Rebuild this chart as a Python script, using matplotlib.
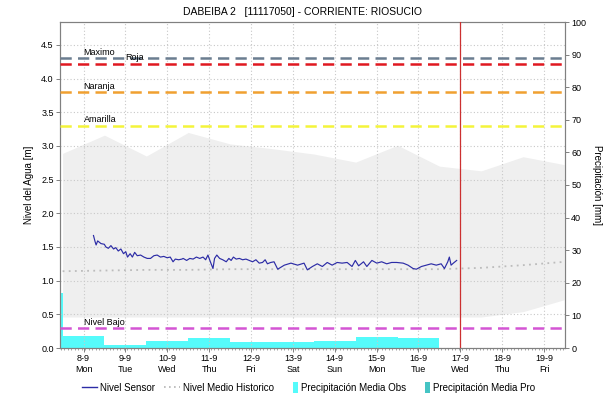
import matplotlib

matplotlib.use("Agg")
import matplotlib.dates as mdates
import matplotlib.pyplot as plt
import pandas as pd
from matplotlib.legend_handler import HandlerPatch
from matplotlib.lines import Line2D
from matplotlib.patches import Patch, Rectangle

plt.rcParams["font.family"] = ["Liberation Sans", "DejaVu Sans"]

title = "DABEIBA 2   [11117050] - CORRIENTE: RIOSUCIO"
base = pd.Timestamp("2025-09-08 00:00")

# sensor level [m], hours after 8-9 00:00
sensor_hours = [5.7, 6.6, 7.2, 8.1, 10.0, 11.9, 12.8, 14.2, 15.7, 17.2, 18.5, 19.9, 21.4, 22.9,
                24.2, 25.2, 26.7, 28.0, 29.3, 30.8, 32.7, 34.6, 36.5, 38.4, 40.3, 42.2, 44.1,
                46.0, 47.9, 49.7, 51.3, 52.6, 54.5, 56.4, 57.1, 59.1, 60.9, 62.8, 64.7, 66.6,
                68.5, 70.0, 71.3, 72.7, 74.2, 75.1, 76.4, 78.0, 79.8, 81.8, 83.3, 84.6, 85.9,
                87.5, 89.3, 91.2, 93.1, 95.0, 96.9, 98.8, 100.7, 102.6, 104.1, 105.4, 107.3,
                109.2, 111.3, 115.1, 118.9, 122.7, 126.4, 128.3, 131.2, 134.0, 136.9, 139.7,
                142.5, 145.4, 148.2, 151.1, 153.9, 155.8, 157.7, 160.5, 162.4, 165.3, 168.1,
                170.9, 173.8, 176.6, 179.5, 183.2, 186.0, 188.9, 190.8, 193.7, 196.5, 199.3,
                202.2, 205.0, 206.9, 208.8, 209.7, 210.7, 212.0, 213.9]
sensor_level = [1.67, 1.58, 1.53, 1.59, 1.55, 1.54, 1.50, 1.48, 1.52, 1.47, 1.49, 1.44, 1.47, 1.40,
                1.43, 1.35, 1.40, 1.35, 1.42, 1.37, 1.38, 1.35, 1.33, 1.33, 1.37, 1.38, 1.35,
                1.36, 1.34, 1.35, 1.28, 1.32, 1.31, 1.32, 1.33, 1.30, 1.33, 1.32, 1.35, 1.33,
                1.35, 1.31, 1.38, 1.28, 1.18, 1.33, 1.38, 1.33, 1.31, 1.28, 1.33, 1.30, 1.35,
                1.32, 1.33, 1.31, 1.32, 1.30, 1.28, 1.31, 1.26, 1.27, 1.31, 1.25, 1.27,
                1.28, 1.17, 1.23, 1.26, 1.23, 1.26, 1.16, 1.21, 1.25, 1.21, 1.27,
                1.23, 1.27, 1.26, 1.27, 1.21, 1.30, 1.22, 1.28, 1.21, 1.30, 1.26,
                1.28, 1.25, 1.27, 1.27, 1.26, 1.23, 1.18, 1.17, 1.21, 1.23, 1.25,
                1.23, 1.25, 1.18, 1.28, 1.35, 1.23, 1.26, 1.30]

# historical band and median [m], daily at noon
hist_days = ["2025-09-07 12:00", "2025-09-08 12:00", "2025-09-09 12:00", "2025-09-10 12:00",
             "2025-09-11 12:00", "2025-09-12 12:00", "2025-09-13 12:00", "2025-09-14 12:00",
             "2025-09-15 12:00", "2025-09-16 12:00", "2025-09-17 12:00", "2025-09-18 12:00",
             "2025-09-19 12:00"]
hist_max = [2.89, 3.16, 2.85, 3.20, 3.03, 2.96, 2.88, 2.76, 3.01, 2.70, 2.63, 2.84, 2.72]
hist_min = [0.46, 0.46, 0.46, 0.46, 0.46, 0.46, 0.46, 0.46, 0.46, 0.46, 0.46, 0.54, 0.72]
hist_median = [1.14, 1.15, 1.16, 1.16, 1.17, 1.17, 1.17, 1.17, 1.17, 1.17, 1.19, 1.23, 1.28]

# daily observed precipitation [mm]
precip_days = ["2025-09-07", "2025-09-08", "2025-09-09", "2025-09-10", "2025-09-11",
               "2025-09-12", "2025-09-13", "2025-09-14", "2025-09-15", "2025-09-16"]
precip_obs = [17.0, 3.8, 0.8, 2.0, 3.0, 1.9, 1.9, 2.2, 3.5, 3.0]

# alert levels [m]
levels = [("Maximo", 4.30, "#6b7d90", 0), ("Roja", 4.22, "#e01820", 1),
          ("Naranja", 3.80, "#f0a030", 0), ("Amarilla", 3.30, "#f4f43a", 0),
          ("Nivel Bajo", 0.29, "#d455d4", 0)]
now = pd.Timestamp("2025-09-17 00:00")

tick_days = pd.date_range("2025-09-08", "2025-09-19", freq="D")
tick_labels = [f"{d.day}-{d.month}\n{d.strftime('%a')}" for d in tick_days]

grey = "#808080"
cyan = "#55fbfb"
teal = "#45c4c4"


class NarrowPatch(HandlerPatch):
    def create_artists(self, legend, orig_handle, xdescent, ydescent, width, height, fontsize, trans):
        w = height * 0.7
        r = Rectangle((width - w - xdescent, -ydescent - 1.5), w, height + 3,
                      facecolor=orig_handle.get_facecolor(), edgecolor="none", transform=trans)
        return [r]


fig = plt.figure(figsize=(6.05, 4.01), dpi=100)
ax = fig.add_axes([60 / 605, 1 - 348 / 401, 505 / 605, 326 / 401])
ax2 = ax.twinx()
ax.set_zorder(ax2.get_zorder() + 1)
ax.patch.set_visible(False)

hx = pd.to_datetime(hist_days)
ax.fill_between(hx, hist_min, hist_max, color="#efefef", lw=0, zorder=1)
ax.plot(hx, hist_median, color="#bcbcbc", ls=(0, (1, 2.4)), lw=1.3, zorder=2)

sx = base + pd.to_timedelta(sensor_hours, unit="h")
ax.plot(sx, sensor_level, color="#2c2ca6", lw=0.85, zorder=4)

start = pd.Timestamp("2025-09-07 10:30")
for name, val, col, k in levels:
    ax.axhline(val, color=col, lw=1.8, ls=(0, (4.5, 2.5)), zorder=3)
    ax.text(tick_days[k], val + 0.02, name, fontsize=6.5, va="bottom", ha="left", zorder=5)

ax.axvline(now, color="#cc3030", lw=0.9, zorder=5)

px = pd.to_datetime(precip_days)
ax2.bar(px, precip_obs, width=1.0, color=cyan, lw=0, zorder=1)

ax.set_xlim(start, pd.Timestamp("2025-09-19 12:00"))
ax.set_ylim(0, 4.84)
ax2.set_ylim(0, 100)
ax.set_yticks([i * 0.5 for i in range(10)])
ax.yaxis.set_major_formatter(matplotlib.ticker.FormatStrFormatter("%.1f"))
ax2.set_yticks(range(0, 101, 10))
ax.set_xticks(tick_days)
ax.set_xticklabels(tick_labels)
ax.xaxis.set_minor_locator(mdates.HourLocator(interval=2))

ax.grid(True, which="major", color="#c8c8c8", ls=(0, (1, 2)), lw=0.8)
for a in (ax, ax2):
    for s in a.spines.values():
        s.set_color(grey)
    a.tick_params(labelsize=6.5, colors=grey, labelcolor="black", length=3, width=0.7, pad=1.5)
ax.tick_params(axis="x", which="minor", length=1.5, width=0.5, colors=grey)

ax.set_ylabel("Nivel del Agua [m]", fontsize=7, labelpad=5)
ax2.set_ylabel("Precipitación [mm]", fontsize=7, rotation=270, labelpad=11)
fig.suptitle(title, fontsize=7.5, y=0.982)

handles = [Line2D([], [], color="#2c2ca6", lw=1),
           Line2D([], [], color="#b4b4b4", ls=(0, (1, 2)), lw=1.2),
           Patch(color=cyan), Patch(color=teal)]
names = ["Nivel Sensor", "Nivel Medio Historico", "Precipitación Media Obs", "Precipitación Media Pro"]
fig.legend(handles, names, loc="center", bbox_to_anchor=(0.51, 0.033), ncol=4, frameon=False,
           fontsize=7, handlelength=1.6, handletextpad=0.3, columnspacing=0.9,
           handler_map={Patch: NarrowPatch()})

fig.savefig("out.png", dpi=100)
